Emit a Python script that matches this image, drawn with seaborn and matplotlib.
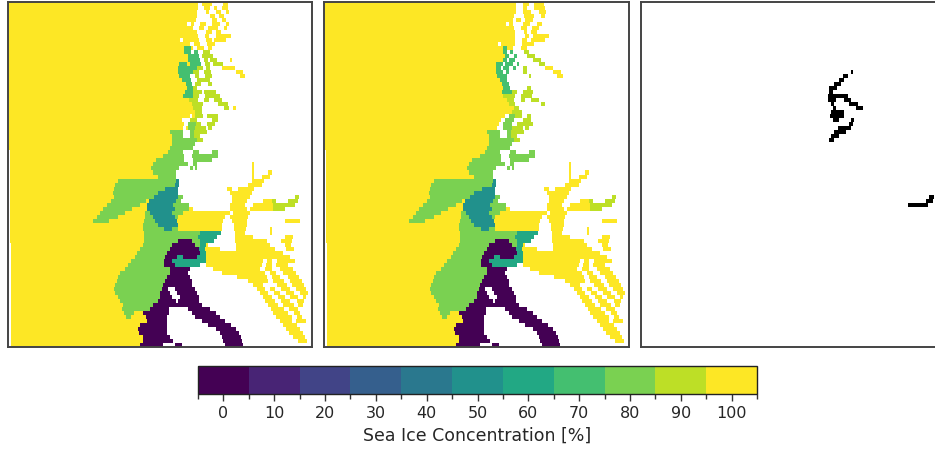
"""
Sea ice concentration maps, two model runs and their difference
"""
import re
import numpy as np
import pandas as pd
import seaborn as sns
import matplotlib as mpl
import matplotlib.pyplot as plt

# every map row is a run list: code then the column where the run stops
# A=100, 9=90 ... 0=0, "."=no data
TOP_A = [
    "A198 .202 A212 .223 A228", "A198 .204 A210 .214 A217 .222 A228",
    "A197 .206 A209 .216 A221 .226 A229", "A197 .210 A215 .219 A224",
    "A196 .212 A217 .222 A226", "A187 .191 A194 .200 A206 .212 A220 .226 A229",
    "A193 .199 A204 .208 A218 .224 A227", "A197 .206 A212 .216 A221",
    "A198 .205 A209 .216 A231", "A180 .183 A199 .206 A212 .214 A226",
    "A190 .194 A200 .207 A215", "A184 7191 A193 .197 A204 .208 A212",
    "A184 7191 .194 7198 .203 9210", "A188 7199 .202 9213",
    "A188 7200 .204 9208 .210 9217 .230 A232", "A179 7187 A190 7201 .205 9210 .213 9223",
    "A178 7197 9203 .206 9210 .222 A235", "A178 7193 9199 .204 9211 .236 A243",
    "A179 7190 .195 9199 .205 9212 .240 A245", "A182 7191 .197 9210",
    "A186 7192 .195 9201 .208 9212", "A187 7193 9197",
    "A185 7193 9202 .204 9216", "A183 7193 9199 .205 9220",
    ".9 A189 9198 .204 9209 .214 9222", ".9 A192 9203 .218 9228",
    ".9 A193 9202 .224 9229 .233 A236", ".9 A195 9202",
    ".9 A190 .192 A195 9203 .207 9214 9218", ".9 A182 .190 9197 .212 9218",
    ".9 A184 .188 8196 9201 .207 9215", ".9 A183 .186 A188 8195 9206 .208 9212",
]
TOP_B = [
    "A199 .206 A212 .217 A227", "A199 .206 A210 .217 A228",
    "A199 .206 A214 .222 A229", "A197 .207 A217 .224 A228",
    "A196 .199 A204 .208 A216", "A189 .192 A196 .206 A213 .220 A225",
    "A197 .204 A210 .215 A222", "A198 .207 A210 .214 A220",
    "A198 .208 A212 .216 A232", "A198 .205 A210 .214 A228",
    "A181 .184 A198 .205 A217", "A186 7190 A196 .204 A210",
    "A186 7190 .193 7196 .207 9212", "A188 7192 .197 7200 .210 9218",
    "A186 7190 .192 7198 .216 9224", "A179 7186 .188 7196 .200 7202 .222 9228",
    "A179 7184 .186 7192 .196 7199 .206 9210 .228 A236", "A179 7186 .189 7192 .206 9210 .236 A244",
    "A180 7190 .212 9214 .240 A246", "A183 7190",
    "A185 7192", "A186 7193 .210 9214",
    "A185 7195 9200 .206 9216", "A186 9198 .204 9215",
    ".9 A190 9197 .204 9208 .214 9222", ".9 A192 9198 .224 9228",
    ".9 A197 9202", ".9 A195 9205",
    ".9 A188 .192 8198 9205 .210 9214", ".9 A184 .188 8197 .206 9214",
    ".9 A182 .186 8195 .200 9216", ".9 A180 .186 8195 9206 .208 9212",
]
SHARED = [
    ".9 A170 8183 .190 8194 9207", ".9 A172 8183 .190 8194 9200",
    ".9 A172 8197 9203", ".9 A172 8195", ".9 A170 8193",
    ".10 A168 8183 .193 8199 .212 8218", ".10 A163 8184 .192 8218",
    ".10 A156 8184 .193 8212", ".10 A153 8188 .193 8197 .252 A254",
    ".10 A151 8179 .190 8193 .195 8197 .252 A254", ".10 A153 8176 .252 A254 .268 A272",
    ".10 A158 8176 .252 A254 .262 A270", ".10 A118 8176 5179 .252 A264",
    ".10 A115 8175 5179 .248 A262", ".10 A114 8165 5178 .227 A232 .238 A254",
    ".10 A113 8158 5178 .230 A252", ".10 A114 8154 5178 8183 .232 A250 .295 9299",
    ".10 A111 8146 A149 5176 8181 .232 A247 .263 A272 9276 .288 9298",
    ".10 A107 8140 A147 5173 8189 .230 A245 .253 A273 9295",
    ".10 A103 8132 A147 5175 8189 A193 .230 A247 .250 A273 9285",
    ".10 A100 8125 A145 8150 5172 8183 A230 .233 A250",
    ".10 A97 8118 A145 8153 5175 8178 A225 .230 A248",
    ".10 A93 8109 A144 8155 5177 A223 .232 A247 .285 A300",
    ".10 A143 8158 5178 A222 .234 A247", ".10 A143 8164 5172 8178 A222 .234 A246 .270 A272",
    ".10 A144 8200 6221 .235 A245 .270 A272", ".10 A144 8198 6217 .235 A253 .285 A293",
    ".10 A144 8178 0192 8200 6214 .235 A267 .281 A292",
    ".11 A143 8172 0195 8200 6206 A208 .236 A270 .285 A291",
    ".11 A140 8170 0199 6205 A220 .236 A275 .286 A294",
    ".11 A137 8167 0200 6206 A283", ".11 A135 8165 0177 6183 0197 6206 A290",
    ".11 A131 8164 0172 6206 A263 .267 A272 .277 A295",
    ".11 A128 8164 0175 6200 .206 A262 .266 A272 .276 A288",
    ".11 A125 8170 0190 .213 A260 .265 A272 .280 A293",
    ".11 A120 8170 0188 .222 A265 .270 A276 .283 A296",
    ".11 A118 8167 0190 .237 A267 .272 A280 .288 A299",
    ".11 A117 8165 0192 .248 A268 .273 A284 .290 A302",
    ".11 A115 8163 0192 .253 A263 .277 A287 .292 A304",
    ".11 A114 8162 0168 .175 0195 .257 A265 .270 A275 .281 A290 .296 A306",
    ".11 A115 8160 0170 .177 0197 .260 A268 .274 A280 .286 A294 .300 A308",
    ".11 A118 8160 0172 .180 0199 .263 A272 .278 A285 .290 A298 .303 A306",
    ".11 A120 8158 0176 .178 0199 .265 A275 .281 A290 .297 A304",
    ".11 A123 8153 0202 .268 A278 .283 A294 .298 A303",
    ".11 A122 8150 0169 .188 0210 .271 A284 .289 A298",
    ".11 A124 8134 A143 0169 .192 0216 .273 A288 .294 A300",
    ".11 A126 8131 A146 0167 .195 0220 .276 A292 .297 A302",
    ".11 A147 0167 .202 0225 .280 A292 .296 A306",
    ".11 A140 0167 .208 0231 .283 A297",
    ".11 A138 0167 .216 0236 .286 A300",
    ".11 A139 0167 .220 0239 .289 A303",
    ".11 A143 0170 .222 0241 .293 A305",
    ".11 A143 0173 .223 0242 .298 A307",
    ".11 A140 0163 .175 0182 .225 0243",
]
# difference map, row number: runs
DIFF_ROWS = {
    17: ".217 0219", 18: ".209 0214", 19: ".205 0210", 20: ".200 0207", 21: ".195 0203",
    22: ".195 0199", 23: ".194 0214", 24: ".194 0202 .210 0217", 25: ".197 0200 .215 0224",
    26: ".199 0202 .222 0229", 27: ".197 0210", 28: ".196 0210", 29: ".199 0205 .217 0220",
    30: ".215 0219", 31: ".204 0217", 32: ".200 0212", 33: ".197 0205", 34: ".195 0200",
    48: ".295 0300", 49: ".292 0299", 50: ".274 0294",
}
COLUMNS = 312
LEFT_COLUMN = 8
ROW_COUNT = 86
TICKS = [0, 10, 20, 30, 40, 50, 60, 70, 80, 90, 100]
BOUNDS = [-5, 5, 15, 25, 35, 45, 55, 65, 75, 85, 95, 105]
CODES = {".": np.nan, "A": 100, "9": 90, "8": 80, "7": 70, "6": 60, "5": 50, "0": 0}


def expand(runs):
    row = np.full(COLUMNS, np.nan)
    start = 0
    for code, stop in re.findall(r"([A.0-9])(\d+)", runs):
        stop = int(stop)
        row[start:stop] = CODES[code]
        start = stop
    return row[LEFT_COLUMN:]


def to_frame(rows):
    return pd.DataFrame([expand(r) for r in rows])


sns.set_theme(style="white")
mpl.rcParams['text.color'] = '#262626'
cmap = mpl.colors.ListedColormap(mpl.colormaps['viridis'].resampled(11)(np.arange(11)))

fig = plt.figure(figsize=(9.35, 4.51), dpi=100)
W, H = 935.0, 451.0


def panel(left, top, width, height):
    return fig.add_axes([left / W, 1 - (top + height) / H, width / W, height / H])


ax1 = panel(8, 2, 304, 345)
ax2 = panel(324, 2, 305, 345)
ax3 = panel(641, 2, 305, 345)
cax = panel(198, 366, 559, 28)

sns.heatmap(to_frame(TOP_A + SHARED), ax=ax1, cmap=cmap, vmin=-5, vmax=105, cbar_ax=cax,
            cbar_kws={'orientation': 'horizontal', 'ticks': TICKS},
            xticklabels=False, yticklabels=False)
sns.heatmap(to_frame(TOP_B + SHARED), ax=ax2, cmap=cmap, vmin=-5, vmax=105, cbar=False,
            xticklabels=False, yticklabels=False)
diff_rows = [DIFF_ROWS.get(i, "") for i in range(ROW_COUNT)]
sns.heatmap(to_frame(diff_rows), ax=ax3, cmap=mpl.colors.ListedColormap(['black']), cbar=False,
            xticklabels=False, yticklabels=False)

for ax in (ax1, ax2, ax3):
    for s in ax.spines.values():
        s.set_visible(True)
        s.set_color('#444444')
        s.set_linewidth(1.4)

cbar = ax1.collections[0].colorbar
cbar.outline.set_visible(True)
cbar.outline.set_linewidth(1.0)
cbar.outline.set_edgecolor('#222222')
cax.set_xticks(TICKS, labels=[str(t) for t in TICKS])
cax.set_xticks(BOUNDS, minor=True)
cax.tick_params(axis='x', which='major', bottom=True, length=5, width=1, color='#333333',
                labelsize=11.5, labelcolor='#262626', pad=4)
cax.tick_params(axis='x', which='minor', bottom=True, length=3.5, width=1, color='#333333')
cax.set_xlabel('Sea Ice Concentration [%]', fontsize=12.5, labelpad=4, color='#262626')

plt.savefig('out.png', dpi=100)
